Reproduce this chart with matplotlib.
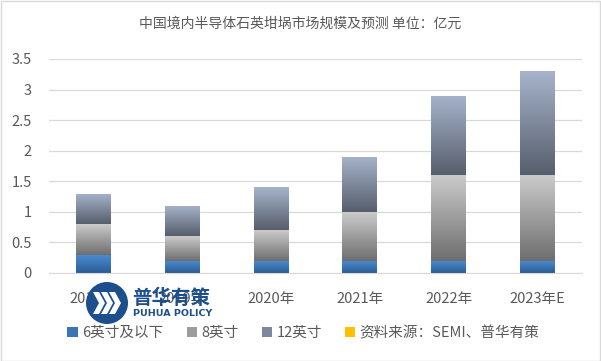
import numpy as np
import matplotlib
matplotlib.use("Agg")
import matplotlib.pyplot as plt
from matplotlib.patches import Patch, Circle, Polygon, Rectangle
from matplotlib.colors import LinearSegmentedColormap

plt.rcParams['font.family'] = ['Noto Sans CJK SC', 'DejaVu Sans']

categories = ['2018年', '2019年', '2020年', '2021年', '2022年', '2023年E']
size_6 = [0.3, 0.2, 0.2, 0.2, 0.2, 0.2]
size_8 = [0.5, 0.4, 0.5, 0.8, 1.4, 1.4]
size_12 = [0.5, 0.5, 0.7, 0.9, 1.3, 1.7]
series_names = ['6英寸及以下', '8英寸', '12英寸']
source_label = '资料来源：SEMI、普华有策'
title = '中国境内半导体石英坩埚市场规模及预测 单位：亿元'
yticks = [0, 0.5, 1, 1.5, 2, 2.5, 3, 3.5]

# (bottom colour, top colour) for each segment gradient
grads = [('#2c5d94', '#4b8dd4'), ('#6e6e6e', '#cbcbcb'), ('#575e6c', '#a6b4cb')]
legend_cols = ['#3b74b4', '#9c9c9c', '#7d889c']
text_col = '#595959'

fig = plt.figure(figsize=(6.01, 3.61), dpi=100)
ax = fig.add_axes([0.0807, 0.2438, 0.888, 0.5928])

x = np.arange(len(categories))
width = 0.39
bottom = np.zeros(len(categories))
grad_img = np.linspace(0, 1, 256).reshape(-1, 1)
for vals, (c0, c1) in zip([size_6, size_8, size_12], grads):
    bars = ax.bar(x, vals, width, bottom=bottom, color='none', edgecolor='none', zorder=2)
    cmap = LinearSegmentedColormap.from_list('g', [c0, c1])
    for rect in bars:
        x0, y0 = rect.get_x(), rect.get_y()
        w, h = rect.get_width(), rect.get_height()
        im = ax.imshow(grad_img, cmap=cmap, origin='lower', aspect='auto',
                       extent=[x0, x0 + w, y0, y0 + h], zorder=2)
        im.set_clip_path(rect)
    bottom += np.array(vals)

ax.set_xlim(-0.5, len(categories) - 0.5)
ax.set_ylim(0, 3.5)
ax.set_yticks(yticks)
ax.set_yticklabels([f'{t:g}' for t in yticks])
ax.set_xticks(x)
ax.set_xticklabels(categories)
ax.grid(axis='y', color='#d9d9d9', linewidth=0.9, zorder=0)
ax.set_axisbelow(True)
for s in ['top', 'right', 'left']:
    ax.spines[s].set_visible(False)
ax.spines['bottom'].set_color('#d9d9d9')
ax.tick_params(axis='both', length=0, labelsize=10.5, colors=text_col)
ax.tick_params(axis='x', pad=14)
ax.tick_params(axis='y', pad=12)

fig.text(0.5, 0.935, title, ha='center', va='center', fontsize=10, color=text_col)

handles = [Patch(facecolor=c, edgecolor='none') for c in legend_cols]
handles.append(Patch(facecolor='#ffc000', edgecolor='none'))
fig.legend(handles, series_names + [source_label], loc='center',
           bbox_to_anchor=(0.505, 0.078), ncol=4, frameon=False,
           fontsize=10.5, labelcolor=text_col, handlelength=0.7, handleheight=0.7,
           handletextpad=0.3, columnspacing=1.6)

# watermark logo
W, H = 601, 361
def fx(px):
    return px / W
def fy(py):
    return 1 - py / H

logo_blue = '#1c4f8c'
fig.patches.append(Circle((107, H - 303), 21, transform=None, facecolor=logo_blue,
                          edgecolor='none', zorder=5))
for dx in [-10, -2, 6]:
    pts = [(107 + dx - 4, H - 292), (107 + dx + 2, H - 292), (107 + dx + 8, H - 303),
           (107 + dx + 2, H - 314), (107 + dx - 4, H - 314), (107 + dx + 2, H - 303)]
    fig.patches.append(Polygon(pts, closed=True, transform=None, facecolor='white',
                               edgecolor='none', zorder=6))
fig.text(fx(132), fy(298), '普华有策', ha='left', va='center', fontsize=14,
         fontweight='bold', color=logo_blue, zorder=6)
fig.text(fx(133), fy(314), 'PUHUA POLICY', ha='left', va='center', fontsize=6.8,
         fontweight='bold', color=logo_blue, family='DejaVu Sans', zorder=6)

fig.patches.append(Rectangle((0.001, 0.001), 0.997, 0.996, transform=fig.transFigure,
                             facecolor='none', edgecolor='#d9d9d9', linewidth=1))

fig.savefig('out.png', dpi=100)
